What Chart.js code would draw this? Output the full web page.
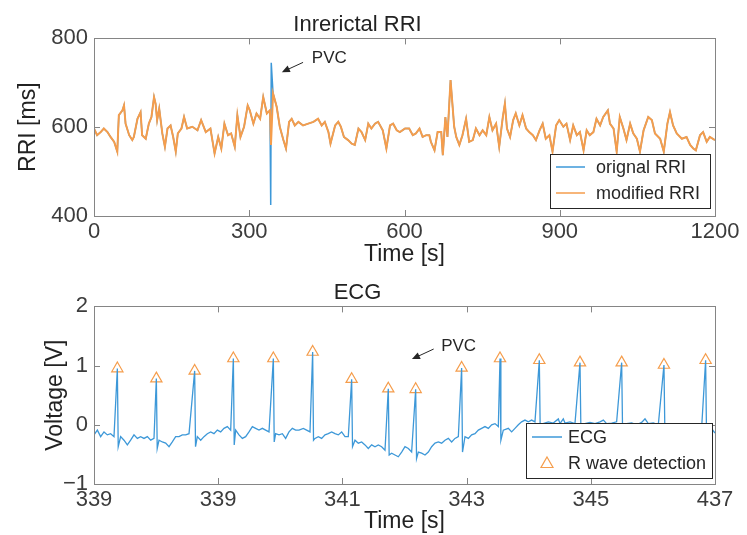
<!DOCTYPE html>
<html>
<head>
<meta charset="utf-8">
<script src="https://cdn.jsdelivr.net/npm/chart.js@4.4.1/dist/chart.umd.min.js"></script>
<style>
  html, body { margin: 0; padding: 0; background: #fff; }
  #wrap { position: relative; width: 747px; height: 535px; }
  canvas { position: absolute; left: 0; }
  #rriChart { top: 0; }
  #ecgChart { top: 268px; }
</style>
</head>
<body>
<div id="wrap">
  <canvas id="rriChart" width="747" height="268"></canvas>
  <canvas id="ecgChart" width="747" height="267"></canvas>
</div>
<script>
// ---- RRI (top) ----
var rriTime = [0, 6, 13, 19, 26, 32, 39, 45, 48, 55, 58, 61, 68, 74, 77, 84, 90, 93, 100, 106,
  111, 116, 119, 122, 126, 132, 137, 142, 148, 153, 158, 162, 169, 174, 180, 190, 200, 207, 216, 225,
  233, 240, 246, 252, 259, 265, 272, 277, 283, 290, 297, 301, 308, 314, 321, 327, 334, 340, 346, 353,
  359, 366, 371, 377, 382, 388, 395, 404, 414, 424, 433, 440, 446, 453, 457, 466, 472, 477, 483, 491,
  498, 504, 511, 517, 524, 530, 536, 543, 549, 558, 565, 572, 578, 585, 591, 601, 609, 616, 622, 629,
  635, 642, 648, 651, 658, 664, 671, 674, 679, 683, 689, 692, 696, 700, 706, 712, 719, 725, 732, 738,
  745, 751, 758, 764, 770, 777, 783, 790, 794, 798, 804, 810, 815, 822, 828, 835, 841, 848, 854, 861,
  867, 873, 880, 886, 893, 899, 907, 913, 920, 926, 933, 939, 946, 952, 958, 965, 971, 978, 984, 993,
  997, 1004, 1010, 1016, 1023, 1029, 1036, 1042, 1049, 1055, 1062, 1071, 1078, 1084, 1094, 1101, 1108, 1113, 1119, 1126,
  1136, 1145, 1152, 1158, 1163, 1171, 1177, 1184, 1190, 1200];
var rriMs = [597, 582, 589, 597, 589, 578, 567, 545, 627, 638, 649, 608, 582, 571, 578, 619, 634, 582, 574, 608,
  623, 668, 653, 616, 642, 586, 556, 597, 604, 578, 545, 586, 597, 623, 597, 601, 593, 616, 589, 597,
  541, 578, 552, 608, 582, 586, 556, 627, 578, 601, 649, 638, 608, 631, 619, 668, 631, 638, 676, 646,
  601, 571, 552, 612, 619, 604, 612, 604, 608, 612, 619, 604, 612, 589, 563, 604, 612, 601, 578, 571,
  563, 560, 597, 589, 571, 608, 597, 608, 612, 593, 552, 604, 608, 593, 589, 597, 597, 582, 586, 597,
  578, 582, 582, 567, 548, 589, 589, 537, 623, 578, 706, 661, 601, 578, 560, 582, 619, 567, 571, 597,
  582, 593, 582, 623, 593, 608, 556, 623, 653, 597, 578, 616, 631, 604, 627, 597, 589, 582, 571, 593,
  608, 574, 582, 545, 604, 616, 601, 608, 571, 604, 582, 589, 548, 593, 582, 589, 619, 604, 623, 638,
  608, 597, 545, 623, 597, 571, 608, 586, 574, 545, 593, 623, 616, 586, 574, 545, 608, 634, 604, 586,
  574, 578, 560, 552, 548, 582, 589, 567, 578, 571];
// the PVC beat: original RRI has a short/long pair, modified RRI has one corrected value
var pvcOrigTime = [341.5, 342.5];
var pvcOrigMs = [425, 745];
var pvcModTime = [342];
var pvcModMs = [560];
var rriTicks = [0, 300, 600, 900, 1200];

// ---- ECG (bottom) ----
var ecgBaseTime = [339.000, 339.054, 339.107, 339.161, 339.215, 339.268, 339.322, 339.429, 339.483, 339.537,
  339.590, 339.644, 339.698, 339.751, 339.805, 339.859, 339.913, 339.966, 340.047, 340.100,
  340.154, 340.208, 340.261, 340.315, 340.369, 340.422, 340.476, 340.530, 340.664, 340.718,
  340.771, 340.825, 340.879, 340.932, 340.986, 341.040, 341.093, 341.147, 341.201, 341.281,
  341.335, 341.389, 341.442, 341.496, 341.550, 341.603, 341.657, 341.711, 341.764, 341.818,
  341.925, 341.979, 342.033, 342.086, 342.140, 342.194, 342.247, 342.301, 342.371, 342.424,
  342.478, 342.559, 342.612, 342.666, 342.720, 342.773, 342.827, 342.881, 342.934, 342.988,
  343.042, 343.095, 343.203, 343.256, 343.310, 343.364, 343.417, 343.471, 343.525, 343.578,
  343.632, 343.686, 343.793, 343.847, 343.900, 343.954, 344.008, 344.062, 344.115, 344.223,
  344.276, 344.330, 344.384, 344.437, 344.491, 344.545, 344.598, 344.652, 344.706, 344.759,
  344.813, 344.867, 344.974, 345.028, 345.081, 345.135, 345.189, 345.242, 345.296, 345.350,
  345.403, 345.457, 345.511, 345.591, 345.672, 345.725, 345.779, 345.833, 345.886, 345.940,
  345.994, 346.047, 346.101, 346.235, 346.316, 346.396, 346.477, 346.504, 346.557, 346.584,
  346.665, 346.745, 346.906, 346.987, 347.067, 347.148, 347.202, 347.255, 347.336, 347.416,
  347.577, 347.658, 347.738, 347.819, 347.873, 347.926, 348.007, 348.087, 348.248, 348.329,
  348.409, 348.490, 348.570, 348.651, 348.731, 348.785, 348.903, 348.957, 349.000];
var ecgBaseVolt = [-0.17, -0.09, -0.20, -0.12, -0.17, -0.15, -0.20, -0.20, -0.26, -0.34,
  -0.26, -0.17, -0.23, -0.20, -0.23, -0.20, -0.26, -0.23, -0.26, -0.29,
  -0.31, -0.37, -0.29, -0.20, -0.20, -0.17, -0.17, -0.15, -0.20, -0.26,
  -0.20, -0.15, -0.12, -0.15, -0.09, -0.12, -0.06, -0.03, -0.09, -0.09,
  -0.17, -0.23, -0.20, -0.12, -0.03, -0.06, -0.09, -0.06, -0.09, -0.12,
  -0.15, -0.17, -0.15, -0.23, -0.12, -0.06, -0.09, -0.09, -0.06, -0.09,
  -0.12, -0.23, -0.20, -0.23, -0.17, -0.15, -0.12, -0.15, -0.17, -0.12,
  -0.20, -0.20, -0.26, -0.31, -0.29, -0.34, -0.40, -0.34, -0.37, -0.34,
  -0.37, -0.43, -0.48, -0.51, -0.54, -0.46, -0.37, -0.40, -0.46, -0.46,
  -0.48, -0.51, -0.46, -0.37, -0.31, -0.29, -0.31, -0.26, -0.23, -0.29,
  -0.23, -0.20, -0.20, -0.23, -0.17, -0.15, -0.09, -0.06, -0.03, -0.06,
  0.00, 0.02, -0.03, -0.09, -0.06, -0.12, -0.06, 0.00, 0.05, 0.08,
  0.05, 0.08, 0.05, 0.02, 0.05, 0.03, 0.10, 0.02, 0.10, 0.03,
  0.05, 0.02, 0.02, 0.04, 0.02, 0.05, 0.08, 0.02, 0.03, 0.05,
  0.02, 0.03, 0.00, 0.04, 0.10, 0.02, 0.03, 0.00, 0.00, -0.02,
  0.00, -0.03, -0.05, -0.03, -0.06, -0.05, -0.10, -0.08, -0.14];
var rPeakTime = [339.376, 340.004, 340.621, 341.244, 341.888, 342.521, 343.149, 343.739,
  344.180, 344.920, 345.538, 346.171, 346.826, 347.497, 348.178, 348.849];
var rPeakVolt = [0.95, 0.78, 0.91, 1.12, 1.12, 1.23, 0.77, 0.61, 0.60, 0.96, 1.12, 1.09, 1.05, 1.05, 1.01, 1.09];
var sDipVolt = [-0.37, -0.40, -0.37, -0.34, -0.29, -0.26, -0.37, -0.51, -0.57, -0.46, -0.26, -0.06, -0.05, -0.04, -0.06, -0.12];
var ecgTicks = [339, 341, 343, 345, 347, 349];
var ecgTickLabels = ['339', '339', '341', '343', '345', '437'];
var voltTicks = [-1, 0, 1, 2];
var voltTickLabels = ['\u22121', '0', '1', '2'];

var blue = '#3d98d8';
var orange = '#f59d4c';
var fontFamily = '"Liberation Sans", Arial, Helvetica, sans-serif';
var tickColor = '#3c3c3c';

// build point lists
function toPoints(xs, ys) {
    return xs.map(function (x, i) { return { x: x, y: ys[i] }; });
}
function byX(a, b) { return a.x - b.x; }

var origPoints = toPoints(rriTime, rriMs).concat(toPoints(pvcOrigTime, pvcOrigMs)).sort(byX);
var modPoints = toPoints(rriTime, rriMs).concat(toPoints(pvcModTime, pvcModMs)).sort(byX);

var ecgPoints = toPoints(ecgBaseTime, ecgBaseVolt);
rPeakTime.forEach(function (t, i) {
    ecgPoints.push({ x: t, y: rPeakVolt[i] });
    ecgPoints.push({ x: t + 0.014, y: sDipVolt[i] });
});
ecgPoints.sort(byX);
var peakPoints = toPoints(rPeakTime, rPeakVolt);

// box frame with inward tick marks (MATLAB look)
var framePlugin = {
    id: 'frame',
    afterDatasetsDraw: function (chart) {
        var ctx = chart.ctx, a = chart.chartArea, x = chart.scales.x, y = chart.scales.y;
        ctx.save();
        ctx.strokeStyle = '#858585';
        ctx.lineWidth = 1;
        ctx.strokeRect(Math.round(a.left) + 0.5, Math.round(a.top) + 0.5,
            Math.round(a.right - a.left), Math.round(a.bottom - a.top));
        ctx.beginPath();
        x.ticks.forEach(function (t) {
            var px = Math.round(x.getPixelForValue(t.value)) + 0.5;
            ctx.moveTo(px, a.bottom); ctx.lineTo(px, a.bottom - 6);
            ctx.moveTo(px, a.top); ctx.lineTo(px, a.top + 6);
        });
        y.ticks.forEach(function (t) {
            var py = Math.round(y.getPixelForValue(t.value)) + 0.5;
            ctx.moveTo(a.left, py); ctx.lineTo(a.left + 6, py);
            ctx.moveTo(a.right, py); ctx.lineTo(a.right - 6, py);
        });
        ctx.stroke();
        ctx.restore();
    }
};

// legend box inside the plot, lower right
var boxLegendPlugin = {
    id: 'boxLegend',
    afterDraw: function (chart, args, opts) {
        var ctx = chart.ctx, a = chart.chartArea;
        var left = a.right - opts.right - opts.width;
        var top = a.bottom - opts.bottom - opts.height;
        ctx.save();
        ctx.fillStyle = '#fff';
        ctx.fillRect(left, top, opts.width, opts.height);
        ctx.strokeStyle = '#262626';
        ctx.lineWidth = 1;
        ctx.strokeRect(Math.round(left) + 0.5, Math.round(top) + 0.5, opts.width, opts.height);
        ctx.font = '18px ' + fontFamily;
        ctx.textBaseline = 'middle';
        chart.data.datasets.forEach(function (ds, i) {
            var ry = top + opts.rows[i];
            if (ds.showLine === false) {
                var cx = left + opts.sampleX + opts.sampleW / 2;
                ctx.strokeStyle = ds.pointBorderColor;
                ctx.lineWidth = 1.2;
                ctx.beginPath();
                ctx.moveTo(cx, ry - 6);
                ctx.lineTo(cx + 6, ry + 4.5);
                ctx.lineTo(cx - 6, ry + 4.5);
                ctx.closePath();
                ctx.stroke();
            } else {
                ctx.strokeStyle = ds.borderColor;
                ctx.lineWidth = 1.5;
                ctx.beginPath();
                ctx.moveTo(left + opts.sampleX, ry);
                ctx.lineTo(left + opts.sampleX + opts.sampleW, ry);
                ctx.stroke();
            }
            ctx.fillStyle = '#262626';
            ctx.fillText(ds.label, left + opts.textX, ry + 1);
        });
        ctx.restore();
    }
};

// "PVC" label with arrow, placed in data units
var arrowPlugin = {
    id: 'arrowNote',
    afterDraw: function (chart, args, opts) {
        var ctx = chart.ctx, x = chart.scales.x, y = chart.scales.y;
        var tx = x.getPixelForValue(opts.tail[0]), ty = y.getPixelForValue(opts.tail[1]);
        var hx = x.getPixelForValue(opts.head[0]), hy = y.getPixelForValue(opts.head[1]);
        var ang = Math.atan2(hy - ty, hx - tx);
        ctx.save();
        ctx.strokeStyle = '#262626';
        ctx.fillStyle = '#262626';
        ctx.lineWidth = 1;
        ctx.beginPath();
        ctx.moveTo(tx, ty);
        ctx.lineTo(hx - 5 * Math.cos(ang), hy - 5 * Math.sin(ang));
        ctx.stroke();
        ctx.beginPath();
        ctx.moveTo(hx, hy);
        ctx.lineTo(hx - 8 * Math.cos(ang) + 3.5 * Math.sin(ang), hy - 8 * Math.sin(ang) - 3.5 * Math.cos(ang));
        ctx.lineTo(hx - 8 * Math.cos(ang) - 3.5 * Math.sin(ang), hy - 8 * Math.sin(ang) + 3.5 * Math.cos(ang));
        ctx.closePath();
        ctx.fill();
        ctx.font = '17px ' + fontFamily;
        ctx.textBaseline = 'middle';
        ctx.fillText(opts.text, x.getPixelForValue(opts.label[0]), y.getPixelForValue(opts.label[1]));
        ctx.restore();
    }
};

function tickFont() { return { family: fontFamily, size: 22 }; }
function labelFont() { return { family: fontFamily, size: 23 }; }

new Chart(document.getElementById('rriChart'), {
    type: 'line',
    data: {
        datasets: [{
            label: 'orignal RRI',
            data: origPoints,
            borderColor: blue,
            borderWidth: 1.5,
            pointRadius: 0,
            tension: 0,
            order: 1
        }, {
            label: 'modified RRI',
            data: modPoints,
            borderColor: orange,
            borderWidth: 2,
            pointRadius: 0,
            tension: 0,
            order: 0
        }]
    },
    options: {
        responsive: false,
        animation: false,
        events: [],
        layout: { padding: { left: 0, right: 32, top: 0, bottom: 0 } },
        plugins: {
            legend: { display: false },
            tooltip: { enabled: false },
            title: {
                display: true,
                text: 'Inrerictal RRI',
                color: '#222',
                font: { family: fontFamily, size: 22, weight: 'normal' },
                padding: { top: 12, bottom: 0 }
            },
            boxLegend: { right: 5, bottom: 8, width: 160, height: 54, rows: [13, 39], sampleX: 6, sampleW: 29, textX: 46 },
            arrowNote: { text: 'PVC', tail: [404, 746], head: [363, 724], label: [421, 755] }
        },
        scales: {
            x: {
                type: 'linear',
                min: 0,
                max: 1200,
                afterBuildTicks: function (s) { s.ticks = rriTicks.map(function (v) { return { value: v }; }); },
                afterFit: function (s) { s.height = 52; },
                ticks: {
                    font: tickFont(), color: tickColor, padding: 3, maxRotation: 0, autoSkip: false,
                    callback: function (v) { return String(v); }
                },
                grid: { display: false, drawTicks: false },
                border: { display: false },
                title: { display: true, text: 'Time [s]', color: '#222', font: labelFont(), padding: { top: 0, bottom: 0 } }
            },
            y: {
                min: 400,
                max: 800,
                ticks: { stepSize: 200, font: tickFont(), color: tickColor, padding: 6 },
                afterFit: function (s) { s.width = 94; },
                grid: { display: false, drawTicks: false },
                border: { display: false },
                title: { display: true, text: 'RRI [ms]', color: '#222', font: labelFont(), padding: { top: 15, bottom: 0 } }
            }
        }
    },
    plugins: [framePlugin, boxLegendPlugin, arrowPlugin]
});

new Chart(document.getElementById('ecgChart'), {
    type: 'line',
    data: {
        datasets: [{
            label: 'ECG',
            data: ecgPoints,
            borderColor: blue,
            borderWidth: 1.3,
            pointRadius: 0,
            tension: 0
        }, {
            label: 'R wave detection',
            data: peakPoints,
            showLine: false,
            pointStyle: 'triangle',
            pointRadius: 6.5,
            pointBorderWidth: 1.2,
            pointBorderColor: orange,
            pointBackgroundColor: 'rgba(0,0,0,0)'
        }]
    },
    options: {
        responsive: false,
        animation: false,
        events: [],
        layout: { padding: { left: 0, right: 32, top: 0, bottom: 0 } },
        plugins: {
            legend: { display: false },
            tooltip: { enabled: false },
            title: {
                display: true,
                text: 'ECG',
                color: '#222',
                font: { family: fontFamily, size: 22, weight: 'normal' },
                padding: { top: 12, bottom: 0 }
            },
            boxLegend: { right: 3, bottom: 6, width: 186, height: 55, rows: [14, 40], sampleX: 6, sampleW: 30, textX: 42 },
            arrowNote: { text: 'PVC', tail: [344.47, 1.28], head: [344.12, 1.11], label: [344.59, 1.33] }
        },
        scales: {
            x: {
                type: 'linear',
                min: 339,
                max: 349,
                afterBuildTicks: function (s) { s.ticks = ecgTicks.map(function (v) { return { value: v }; }); },
                afterFit: function (s) { s.height = 51; },
                ticks: {
                    font: tickFont(), color: tickColor, padding: 3, maxRotation: 0, autoSkip: false,
                    callback: function (v, i) { return ecgTickLabels[i]; }
                },
                grid: { display: false, drawTicks: false },
                border: { display: false },
                title: { display: true, text: 'Time [s]', color: '#222', font: labelFont(), padding: { top: 0, bottom: 0 } }
            },
            y: {
                min: -1,
                max: 2,
                afterBuildTicks: function (s) { s.ticks = voltTicks.map(function (v) { return { value: v }; }); },
                ticks: {
                    font: tickFont(), color: tickColor, padding: 6,
                    callback: function (v, i) { return voltTickLabels[i]; }
                },
                afterFit: function (s) { s.width = 94; },
                grid: { display: false, drawTicks: false },
                border: { display: false },
                title: { display: true, text: 'Voltage [V]', color: '#222', font: labelFont(), padding: { top: 42, bottom: 0 } }
            }
        }
    },
    plugins: [framePlugin, boxLegendPlugin, arrowPlugin]
});
</script>
</body>
</html>
